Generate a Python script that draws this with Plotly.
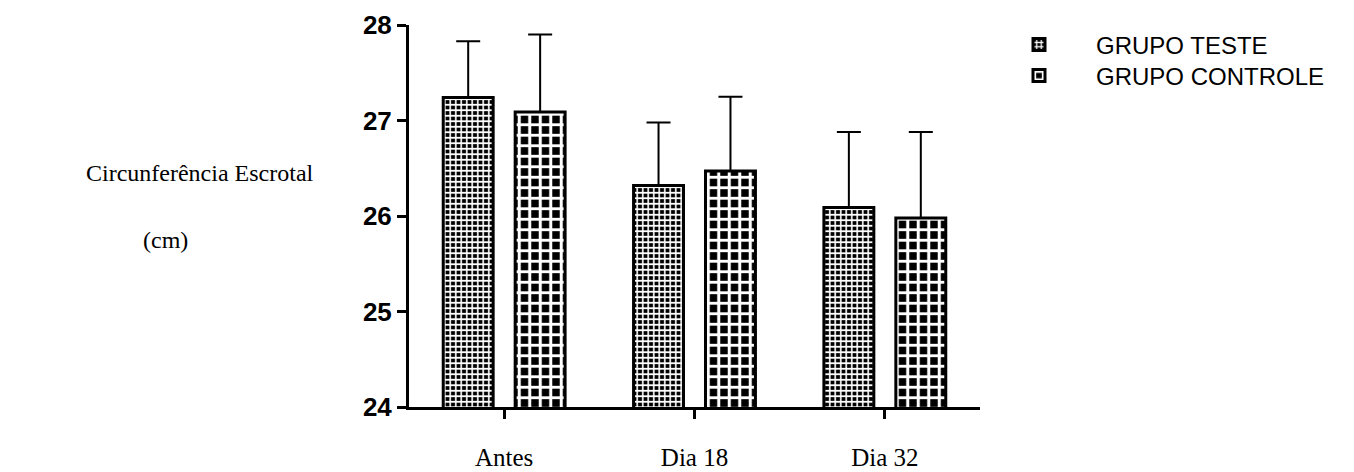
import plotly.graph_objects as go

categories = ["Antes", "Dia 18", "Dia 32"]
teste_mean = [27.24, 26.32, 26.09]
teste_sd = [0.59, 0.66, 0.79]
controle_mean = [27.09, 26.47, 25.98]
controle_sd = [0.81, 0.78, 0.90]
y_ticks = [24, 25, 26, 27, 28]

L, R, T, B = 409, 374, 25, 65
W, H = 1354, 472
pw, ph = W - L - R, H - T - B


def px_x(x):
    return (x - L) / pw


def px_y(y):
    return 1 - (y - T) / ph


fig = go.Figure()
fig.add_trace(go.Bar(
    x=categories, y=teste_mean, name="GRUPO TESTE", legend="legend",
    marker=dict(color="white", line=dict(color="black", width=3),
                pattern=dict(shape="+", fgcolor="white", bgcolor="black", size=5.5, solidity=0.5, fillmode="replace")),
    error_y=dict(type="data", array=teste_sd, arrayminus=[0] * len(teste_sd), symmetric=False,
                 color="black", thickness=2, width=12),
))
fig.add_trace(go.Bar(
    x=categories, y=controle_mean, name="GRUPO CONTROLE", legend="legend2",
    marker=dict(color="white", line=dict(color="black", width=3),
                pattern=dict(shape="+", fgcolor="white", bgcolor="black", size=10.5, solidity=0.5, fillmode="replace")),
    error_y=dict(type="data", array=controle_sd, arrayminus=[0] * len(controle_sd), symmetric=False,
                 color="black", thickness=2, width=12),
))

legend_font = dict(family="Arial, Liberation Sans", size=24, color="black")
serif = "Times New Roman, Liberation Serif"
fig.update_layout(
    width=W, height=H,
    margin=dict(l=L, r=R, t=T, b=B, autoexpand=False),
    paper_bgcolor="white", plot_bgcolor="white",
    barmode="group", bargap=0.244, bargroupgap=0.306,
    showlegend=True,
    legend=dict(x=px_x(982), y=px_y(45), xanchor="left", yanchor="middle", font=legend_font,
                bgcolor="rgba(0,0,0,0)", itemwidth=104),
    legend2=dict(x=px_x(982), y=px_y(76), xanchor="left", yanchor="middle", font=legend_font,
                 bgcolor="rgba(0,0,0,0)", itemwidth=104),
    xaxis=dict(range=[-0.5, 2.5], showline=True, linecolor="black", linewidth=3,
               ticks="outside", ticklen=9, tickwidth=3, tickcolor="black",
               tickfont=dict(family=serif, size=25, color="black"),
               ticklabelstandoff=17, showgrid=False, zeroline=False, automargin=False),
    yaxis=dict(range=[24, 28], showline=True, linecolor="black", linewidth=3,
               ticks="outside", ticklen=9, tickwidth=3, tickcolor="black",
               tickvals=y_ticks,
               tickfont=dict(family="Arial, Liberation Sans", size=26, color="black", weight="bold"),
               showgrid=False, zeroline=False, automargin=False),
    annotations=[
        dict(text="Circunferência Escrotal", x=px_x(200), y=px_y(173), xref="paper", yref="paper",
             xanchor="center", yanchor="middle", showarrow=False,
             font=dict(family=serif, size=24, color="black")),
        dict(text="(cm)", x=px_x(165), y=px_y(240), xref="paper", yref="paper",
             xanchor="center", yanchor="middle", showarrow=False,
             font=dict(family=serif, size=24, color="black")),
    ],
)

fig.write_html("out.html")
